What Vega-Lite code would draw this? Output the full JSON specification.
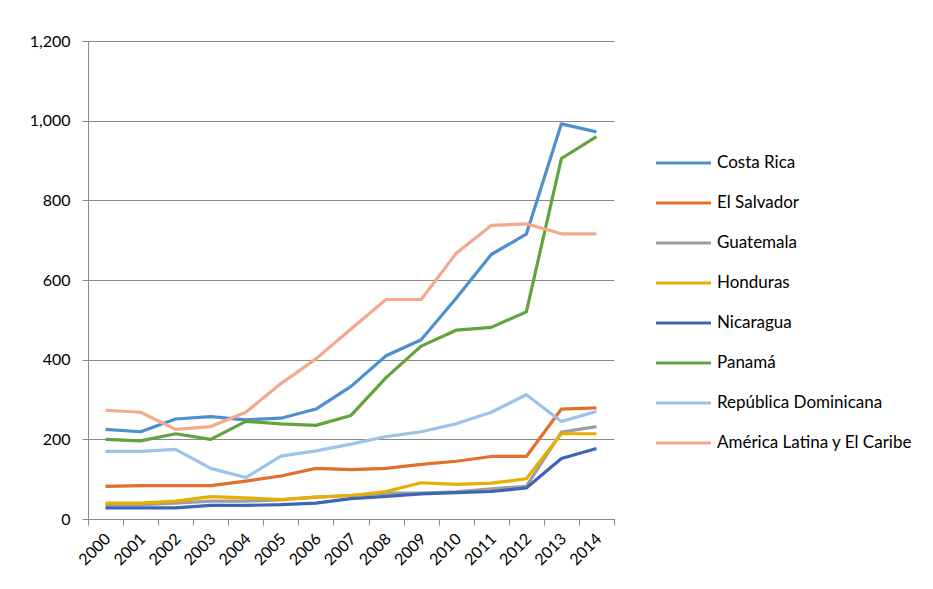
{
  "$schema": "https://vega.github.io/schema/vega-lite/v6.json",
  "width": 526,
  "height": 478,
  "autosize": {"type": "none"},
  "padding": {"left": 88, "top": 41, "right": 319, "bottom": 70},
  "background": "white",
  "config": {
    "view": {"stroke": null},
    "font": "Lato",
    "axis": {"labelFont": "Lato", "labelFontSize": 16, "labelColor": "#000", "titleFont": "Lato"}
  },
  "datasets": {
    "d": [
      {"country":"Costa Rica","year":"2000","value":225},{"country":"Costa Rica","year":"2001","value":219},{"country":"Costa Rica","year":"2002","value":251},{"country":"Costa Rica","year":"2003","value":257},{"country":"Costa Rica","year":"2004","value":249},{"country":"Costa Rica","year":"2005","value":253},{"country":"Costa Rica","year":"2006","value":276},{"country":"Costa Rica","year":"2007","value":333},{"country":"Costa Rica","year":"2008","value":410},{"country":"Costa Rica","year":"2009","value":450},{"country":"Costa Rica","year":"2010","value":554},{"country":"Costa Rica","year":"2011","value":664},{"country":"Costa Rica","year":"2012","value":715},{"country":"Costa Rica","year":"2013","value":992},{"country":"Costa Rica","year":"2014","value":972},
      {"country":"El Salvador","year":"2000","value":82},{"country":"El Salvador","year":"2001","value":84},{"country":"El Salvador","year":"2002","value":84},{"country":"El Salvador","year":"2003","value":84},{"country":"El Salvador","year":"2004","value":95},{"country":"El Salvador","year":"2005","value":108},{"country":"El Salvador","year":"2006","value":127},{"country":"El Salvador","year":"2007","value":124},{"country":"El Salvador","year":"2008","value":127},{"country":"El Salvador","year":"2009","value":137},{"country":"El Salvador","year":"2010","value":145},{"country":"El Salvador","year":"2011","value":157},{"country":"El Salvador","year":"2012","value":157},{"country":"El Salvador","year":"2013","value":276},{"country":"El Salvador","year":"2014","value":279},
      {"country":"Guatemala","year":"2000","value":36},{"country":"Guatemala","year":"2001","value":36},{"country":"Guatemala","year":"2002","value":40},{"country":"Guatemala","year":"2003","value":45},{"country":"Guatemala","year":"2004","value":45},{"country":"Guatemala","year":"2005","value":48},{"country":"Guatemala","year":"2006","value":55},{"country":"Guatemala","year":"2007","value":59},{"country":"Guatemala","year":"2008","value":65},{"country":"Guatemala","year":"2009","value":65},{"country":"Guatemala","year":"2010","value":68},{"country":"Guatemala","year":"2011","value":76},{"country":"Guatemala","year":"2012","value":82},{"country":"Guatemala","year":"2013","value":218},{"country":"Guatemala","year":"2014","value":232},
      {"country":"Honduras","year":"2000","value":40},{"country":"Honduras","year":"2001","value":40},{"country":"Honduras","year":"2002","value":45},{"country":"Honduras","year":"2003","value":56},{"country":"Honduras","year":"2004","value":53},{"country":"Honduras","year":"2005","value":49},{"country":"Honduras","year":"2006","value":55},{"country":"Honduras","year":"2007","value":59},{"country":"Honduras","year":"2008","value":69},{"country":"Honduras","year":"2009","value":91},{"country":"Honduras","year":"2010","value":87},{"country":"Honduras","year":"2011","value":90},{"country":"Honduras","year":"2012","value":101},{"country":"Honduras","year":"2013","value":214},{"country":"Honduras","year":"2014","value":214},
      {"country":"Nicaragua","year":"2000","value":28},{"country":"Nicaragua","year":"2001","value":28},{"country":"Nicaragua","year":"2002","value":28},{"country":"Nicaragua","year":"2003","value":34},{"country":"Nicaragua","year":"2004","value":34},{"country":"Nicaragua","year":"2005","value":36},{"country":"Nicaragua","year":"2006","value":40},{"country":"Nicaragua","year":"2007","value":51},{"country":"Nicaragua","year":"2008","value":57},{"country":"Nicaragua","year":"2009","value":63},{"country":"Nicaragua","year":"2010","value":66},{"country":"Nicaragua","year":"2011","value":69},{"country":"Nicaragua","year":"2012","value":78},{"country":"Nicaragua","year":"2013","value":152},{"country":"Nicaragua","year":"2014","value":177},
      {"country":"Panamá","year":"2000","value":200},{"country":"Panamá","year":"2001","value":196},{"country":"Panamá","year":"2002","value":214},{"country":"Panamá","year":"2003","value":200},{"country":"Panamá","year":"2004","value":245},{"country":"Panamá","year":"2005","value":239},{"country":"Panamá","year":"2006","value":235},{"country":"Panamá","year":"2007","value":260},{"country":"Panamá","year":"2008","value":355},{"country":"Panamá","year":"2009","value":434},{"country":"Panamá","year":"2010","value":474},{"country":"Panamá","year":"2011","value":481},{"country":"Panamá","year":"2012","value":520},{"country":"Panamá","year":"2013","value":905},{"country":"Panamá","year":"2014","value":960},
      {"country":"República Dominicana","year":"2000","value":170},{"country":"República Dominicana","year":"2001","value":170},{"country":"República Dominicana","year":"2002","value":175},{"country":"República Dominicana","year":"2003","value":127},{"country":"República Dominicana","year":"2004","value":104},{"country":"República Dominicana","year":"2005","value":158},{"country":"República Dominicana","year":"2006","value":171},{"country":"República Dominicana","year":"2007","value":188},{"country":"República Dominicana","year":"2008","value":207},{"country":"República Dominicana","year":"2009","value":219},{"country":"República Dominicana","year":"2010","value":239},{"country":"República Dominicana","year":"2011","value":268},{"country":"República Dominicana","year":"2012","value":312},{"country":"República Dominicana","year":"2013","value":245},{"country":"República Dominicana","year":"2014","value":270},
      {"country":"América Latina y El Caribe","year":"2000","value":273},{"country":"América Latina y El Caribe","year":"2001","value":268},{"country":"América Latina y El Caribe","year":"2002","value":225},{"country":"América Latina y El Caribe","year":"2003","value":232},{"country":"América Latina y El Caribe","year":"2004","value":268},{"country":"América Latina y El Caribe","year":"2005","value":340},{"country":"América Latina y El Caribe","year":"2006","value":402},{"country":"América Latina y El Caribe","year":"2007","value":477},{"country":"América Latina y El Caribe","year":"2008","value":551},{"country":"América Latina y El Caribe","year":"2009","value":551},{"country":"América Latina y El Caribe","year":"2010","value":667},{"country":"América Latina y El Caribe","year":"2011","value":737},{"country":"América Latina y El Caribe","year":"2012","value":741},{"country":"América Latina y El Caribe","year":"2013","value":716},{"country":"América Latina y El Caribe","year":"2014","value":716}
    ]
  },
  "data": {"name": "d"},
  "mark": {"type": "line", "strokeWidth": 3.2, "strokeJoin": "round"},
  "encoding": {
    "x": {
      "field": "year", "type": "ordinal", "title": null,
      "scale": {"type": "band", "paddingInner": 0, "paddingOuter": 0},
      "axis": {
        "labelAngle": -45, "labelAlign": "right", "labelBaseline": "middle",
        "labelPadding": 11, "labelOffset": 2,
        "domainColor": "#8a8a8a", "tickColor": "#8a8a8a", "tickSize": 6,
        "grid": false, "tickBand": "extent"
      }
    },
    "y": {
      "field": "value", "type": "quantitative", "title": null,
      "scale": {"domain": [0, 1200], "nice": false},
      "axis": {
        "values": [0, 200, 400, 600, 800, 1000, 1200], "format": ",.0f",
        "domainColor": "#8a8a8a", "tickColor": "#8a8a8a", "tickSize": 6,
        "gridColor": "#8a8a8a", "gridWidth": 1, "labelPadding": 12
      }
    },
    "color": {
      "field": "country", "type": "nominal", "title": null,
      "scale": {
        "domain": ["Costa Rica", "El Salvador", "Guatemala", "Honduras", "Nicaragua", "Panamá", "República Dominicana", "América Latina y El Caribe"],
        "range": ["#4e8fcd", "#e36f2c", "#9e9e9e", "#e8ae00", "#3d65b4", "#63a33c", "#9ec3e8", "#f5a98a"]
      },
      "legend": {
        "orient": "none", "legendX": 566, "legendY": 111,
        "symbolType": "stroke", "symbolSize": 3025, "symbolStrokeWidth": 3.2,
        "labelFont": "Lato", "labelFontSize": 17, "labelColor": "#000",
        "labelOffset": 4, "clipHeight": 22, "rowPadding": 18, "labelLimit": 300
      }
    }
  }
}
